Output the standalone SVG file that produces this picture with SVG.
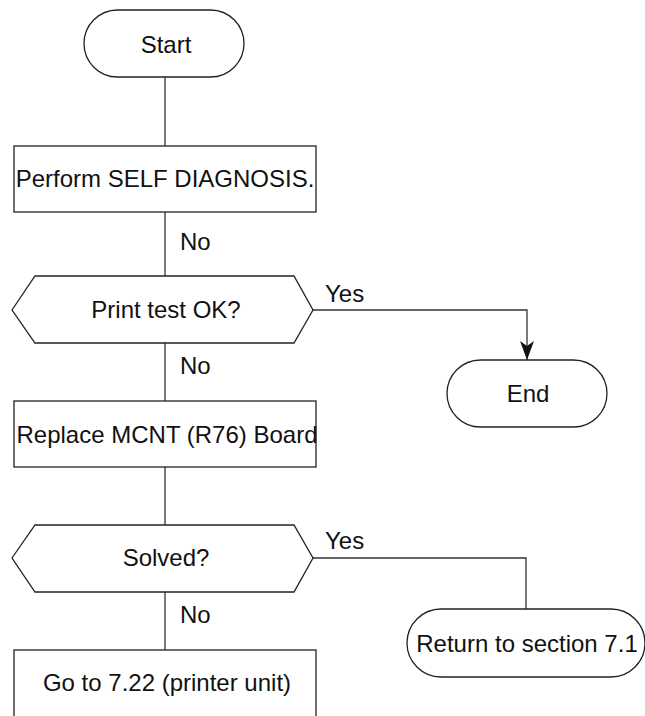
<svg xmlns="http://www.w3.org/2000/svg" width="645" height="716" viewBox="0 0 645 716">
<defs>
<style>
.s{fill:#fff;stroke:#222;stroke-width:1.3}
.c{fill:none;stroke:#333;stroke-width:1.3}
text{font-family:"Liberation Sans",Arial,sans-serif;font-size:24px;fill:#111}
.m{text-anchor:middle}
</style>
<marker id="ah" markerWidth="22" markerHeight="16" refX="20" refY="8" orient="auto" markerUnits="userSpaceOnUse" viewBox="0 0 22 16">
<path d="M20,8 L1,1 L6,8 L1,15 Z" fill="#111"/>
</marker>
</defs>
<g id="connectors">
<line class="c" x1="165" y1="77" x2="165" y2="146"/>
<line class="c" x1="165" y1="212" x2="165" y2="276"/>
<line class="c" x1="165" y1="343" x2="165" y2="401"/>
<polyline class="c" points="313,310 527,310 527,360" marker-end="url(#ah)"/>
<line class="c" x1="165" y1="467" x2="165" y2="525"/>
<line class="c" x1="165" y1="592" x2="165" y2="650"/>
<polyline class="c" points="313,558 526,558 526,609"/>
<text x="180" y="250">No</text>
<text x="325" y="302">Yes</text>
<text x="180" y="374">No</text>
<text x="325" y="549">Yes</text>
<text x="180" y="623">No</text>
</g>
<g id="start">
<rect class="s" x="84" y="10" width="160" height="67" rx="33.5"/>
<text class="m" x="166" y="53">Start</text>
</g>
<g id="selfdiag">
<rect class="s" x="14" y="146" width="302" height="66"/>
<text class="m" x="165" y="187">Perform SELF DIAGNOSIS.</text>
</g>
<g id="printtest">
<polygon class="s" points="12,310 35,276 294,276 313,310 294,343 35,343"/>
<text class="m" x="166" y="318">Print test OK?</text>
</g>
<g id="end">
<rect class="s" x="447" y="360" width="160" height="67" rx="33.5"/>
<text class="m" x="528" y="402">End</text>
</g>
<g id="replace">
<rect class="s" x="14" y="401" width="302" height="66"/>
<text class="m" x="167" y="443">Replace MCNT (R76) Board</text>
</g>
<g id="solved">
<polygon class="s" points="12,558 35,525 294,525 313,558 294,592 35,592"/>
<text class="m" x="166" y="566">Solved?</text>
</g>
<g id="return">
<rect class="s" x="407" y="609" width="238" height="68" rx="34"/>
<text class="m" x="527" y="652">Return to section 7.1</text>
</g>
<g id="goto">
<rect class="s" x="14" y="650" width="302" height="80"/>
<text class="m" x="167" y="691">Go to 7.22 (printer unit)</text>
</g>
</svg>
